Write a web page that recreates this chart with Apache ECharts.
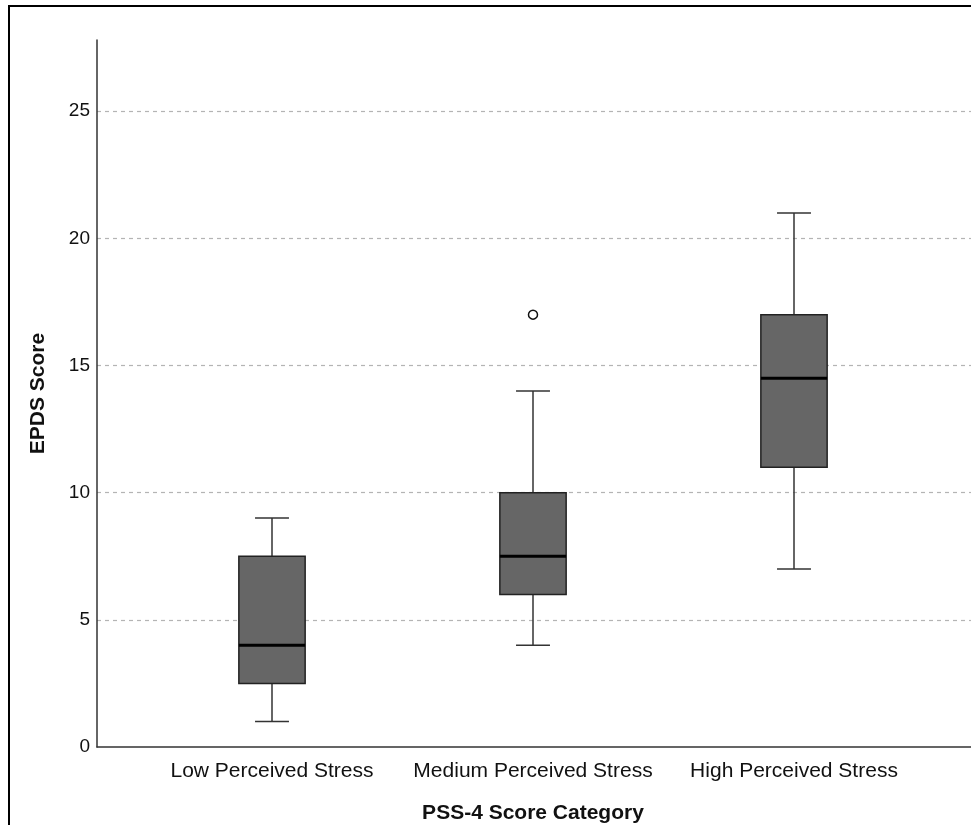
<!DOCTYPE html>
<html>
<head>
<meta charset="utf-8">
<script src="https://cdn.jsdelivr.net/npm/echarts@6/dist/echarts.min.js"></script>
<style>
  html, body { margin: 0; padding: 0; background: #fff; }
  #chart { width: 971px; height: 825px; }
  #frame {
    position: absolute; left: 8px; top: 5px; width: 990px; height: 900px;
    border-left: 2.5px solid #000; border-top: 2.5px solid #000;
    pointer-events: none;
  }
</style>
</head>
<body>
<div id="chart"></div>
<div id="frame"></div>
<script>
  // EPDS score by PSS-4 category
  const categories = ['Low Perceived Stress', 'Medium Perceived Stress', 'High Perceived Stress'];
  const whiskerLow = [1, 4, 7];
  const q1 = [2.5, 6, 11];
  const median = [4, 7.5, 14.5];
  const q3 = [7.5, 10, 17];
  const whiskerHigh = [9, 14, 21];
  const outliers = [[1, 17]];   // [category index, value]

  const yMax = 27.8;
  const gridLines = ['transparent', '#b4b4b4', '#b4b4b4', '#b4b4b4', '#b4b4b4', '#b4b4b4', 'transparent'];

  const boxData = categories.map((c, i) => [i, whiskerLow[i], q1[i], median[i], q3[i], whiskerHigh[i]]);

  function renderBox (params, api) {
    const x = api.value(0);
    const band = api.size([1, 0])[0];
    const half = band * 0.127;
    const cap = band * 0.065;
    const pLow = api.coord([x, api.value(1)]);
    const pQ1 = api.coord([x, api.value(2)]);
    const pMed = api.coord([x, api.value(3)]);
    const pQ3 = api.coord([x, api.value(4)]);
    const pHigh = api.coord([x, api.value(5)]);
    const cx = pLow[0];
    const whisk = { stroke: '#333', lineWidth: 1.5 };
    return {
      type: 'group',
      children: [
        { type: 'line', shape: { x1: cx, y1: pLow[1], x2: cx, y2: pQ1[1] }, style: whisk },
        { type: 'line', shape: { x1: cx, y1: pQ3[1], x2: cx, y2: pHigh[1] }, style: whisk },
        { type: 'line', shape: { x1: cx - cap, y1: pLow[1], x2: cx + cap, y2: pLow[1] }, style: whisk },
        { type: 'line', shape: { x1: cx - cap, y1: pHigh[1], x2: cx + cap, y2: pHigh[1] }, style: whisk },
        {
          type: 'rect',
          shape: { x: cx - half, y: pQ3[1], width: half * 2, height: pQ1[1] - pQ3[1] },
          style: { fill: '#666666', stroke: '#222', lineWidth: 1.5 }
        },
        { type: 'line', shape: { x1: cx - half, y1: pMed[1], x2: cx + half, y2: pMed[1] }, style: { stroke: '#000', lineWidth: 3 } }
      ]
    };
  }

  const fontFamily = '"Liberation Sans", Arial, sans-serif';

  const option = {
    backgroundColor: '#fff',
    animation: false,
    textStyle: { fontFamily: fontFamily },
    grid: [
      { left: 97, right: 0, top: 40, bottom: 78, containLabel: false, outerBoundsMode: 'none' },
      { left: 141.5, width: 783, top: 40, bottom: 78, containLabel: false, outerBoundsMode: 'none' }
    ],
    xAxis: [
      {
        gridIndex: 0, type: 'value', min: 0, max: 1,
        axisLine: { show: true, lineStyle: { color: '#333', width: 1.5 } },
        axisTick: { show: false }, axisLabel: { show: false }, splitLine: { show: false }
      },
      {
        gridIndex: 1, type: 'category', data: categories,
        axisLine: { show: false }, axisTick: { show: false }, splitLine: { show: false },
        axisLabel: { interval: 0, hideOverlap: false, fontSize: 21, color: '#111', margin: 14, fontFamily: fontFamily },
        name: 'PSS-4 Score Category', nameLocation: 'middle', nameGap: 56,
        nameTextStyle: { fontSize: 21, fontWeight: 'bold', color: '#111', fontFamily: fontFamily }
      }
    ],
    yAxis: [
      {
        gridIndex: 0, type: 'value', min: 0, max: yMax, interval: 5,
        axisLine: { show: true, lineStyle: { color: '#333', width: 1.5 } },
        axisTick: { show: false },
        axisLabel: {
          fontSize: 19, color: '#111', margin: 7, fontFamily: fontFamily,
          formatter: v => (v % 5 === 0 ? String(v) : '')
        },
        splitLine: { show: true, lineStyle: { type: [4, 4], color: gridLines, width: 1.2 } },
        name: 'EPDS Score', nameLocation: 'middle', nameRotate: 90, nameGap: 48,
        nameTextStyle: { fontSize: 21, fontWeight: 'bold', color: '#111', fontFamily: fontFamily }
      },
      {
        gridIndex: 1, type: 'value', min: 0, max: yMax, interval: 5, show: false,
        splitLine: { show: false }
      }
    ],
    series: [
      {
        type: 'custom',
        xAxisIndex: 1, yAxisIndex: 1,
        renderItem: renderBox,
        encode: { x: 0, y: [1, 2, 3, 4, 5] },
        data: boxData
      },
      {
        type: 'scatter',
        xAxisIndex: 1, yAxisIndex: 1,
        symbol: 'circle', symbolSize: 9,
        itemStyle: { color: '#fff', borderColor: '#111', borderWidth: 1.5, opacity: 1 },
        data: outliers
      }
    ]
  };

  const chart = echarts.init(document.getElementById('chart'));
  chart.setOption(option);
  window.addEventListener('resize', () => chart.resize());
</script>
</body>
</html>
